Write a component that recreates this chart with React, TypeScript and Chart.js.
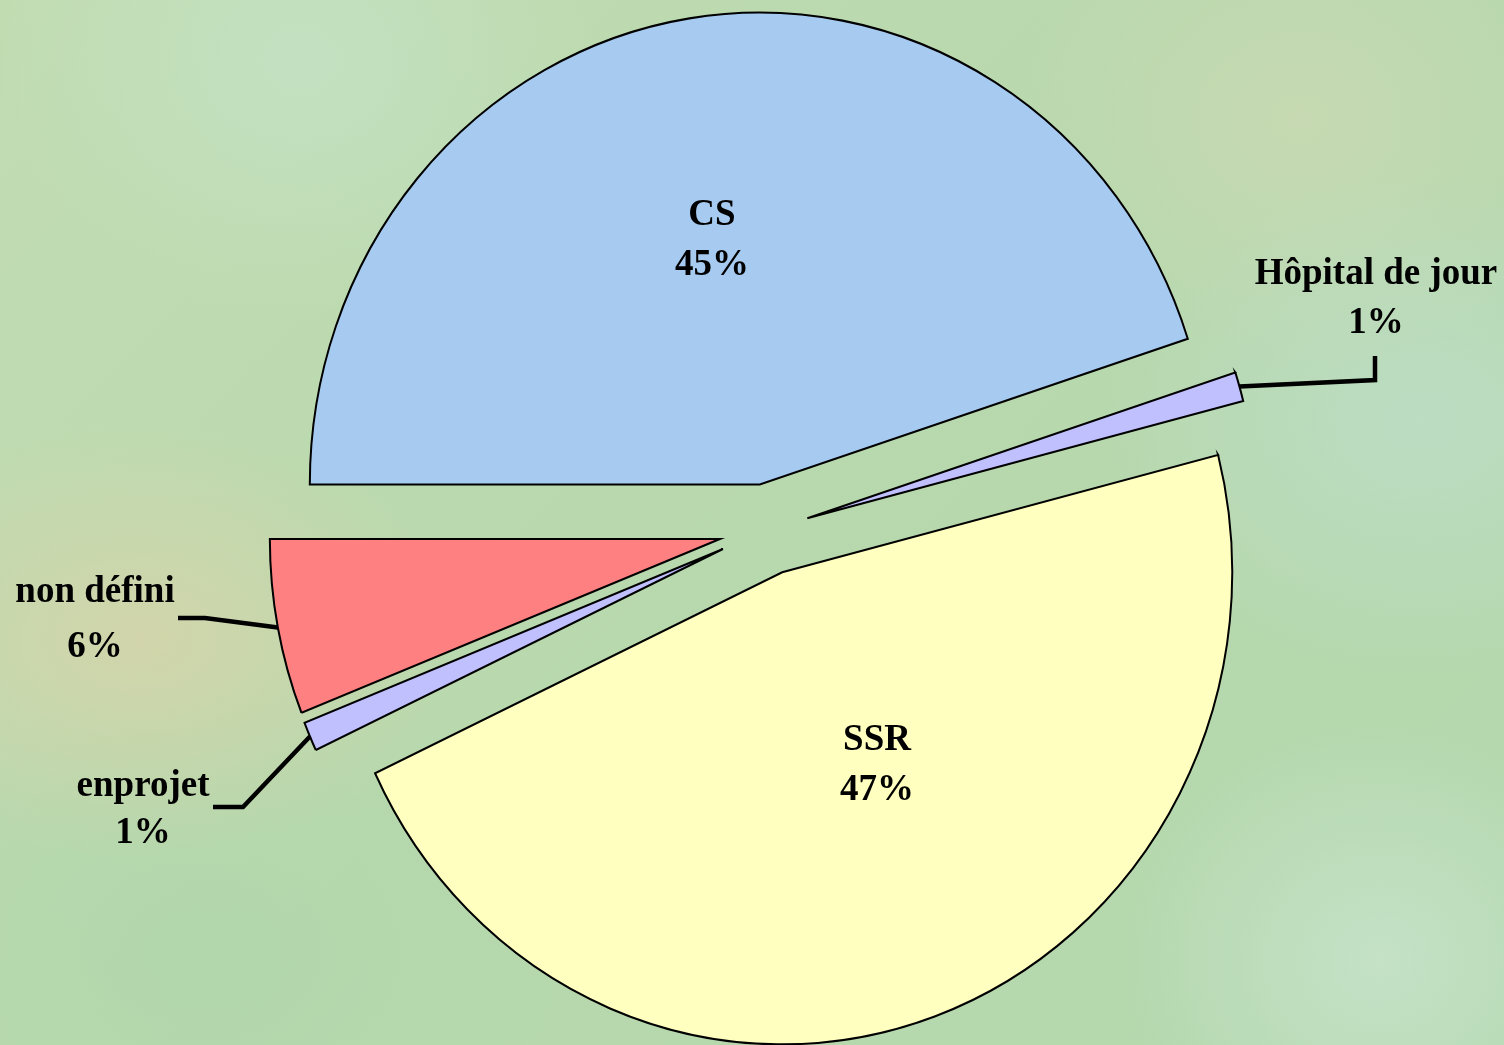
import React, { useEffect, useRef } from "react";
import { Chart, registerables } from "chart.js";

Chart.register(...registerables);

// ---- data ----
const categories = ["CS", "Hôpital de jour", "SSR", "enprojet", "non défini"];
const values = [45, 1, 47, 1, 6];
const percentLabels = ["45%", "1%", "47%", "1%", "6%"];

// ---- styles ----
const sliceColors = ["#a6caf0", "#c0c0ff", "#ffffc0", "#c0c0ff", "#ff8080"];
const explode = [46, 42, 45, 48, 48];
const RADIUS = 450;
const KY = 472 / 450;
const FONT = "bold 37px 'Liberation Serif', 'Times New Roman', serif";

// label layout: centre of first line, line gap, and leader elbow points (outside labels)
const labelLayout: { x: number; y: number; gap: number; leader?: number[][] }[] = [
  { x: 712, y: 215, gap: 50 },
  { x: 1376, y: 274, gap: 49, leader: [[1375, 380], [1375, 356]] },
  { x: 877, y: 740, gap: 50 },
  { x: 143, y: 786, gap: 47, leader: [[243, 807], [213, 807]] },
  { x: 95, y: 592, gap: 55, leader: [[205, 618], [178, 618]] },
];

function center(chart: any) {
  const a = chart.chartArea;
  return { cx: (a.left + a.right) / 2, cy: (a.top + a.bottom) / 2 };
}

const piePlugin = {
  id: "ellipsePie",
  afterDatasetsUpdate(chart: any) {
    const meta = chart.getDatasetMeta(0);
    meta.data.forEach((arc: any, i: number) => {
      const mid = (arc.startAngle + arc.endAngle) / 2;
      arc.x += Math.cos(mid) * explode[i];
      arc.y += (Math.sin(mid) * explode[i]) / KY;
    });
  },
  beforeDatasetsDraw(chart: any) {
    const { ctx } = chart;
    const { cx, cy } = center(chart);
    ctx.save();
    ctx.translate(cx, cy);
    ctx.scale(1, KY);
    ctx.translate(-cx, -cy);
  },
  afterDatasetsDraw(chart: any) {
    chart.ctx.restore();
  },
  afterDraw(chart: any) {
    const { ctx } = chart;
    const { cy } = center(chart);
    const meta = chart.getDatasetMeta(0);
    ctx.save();
    meta.data.forEach((arc: any, i: number) => {
      const lay = labelLayout[i];
      if (lay.leader) {
        const mid = (arc.startAngle + arc.endAngle) / 2;
        const sx = arc.x + Math.cos(mid) * arc.outerRadius;
        const sy = cy + (arc.y + Math.sin(mid) * arc.outerRadius - cy) * KY;
        ctx.beginPath();
        ctx.moveTo(sx, sy);
        lay.leader.forEach((p) => ctx.lineTo(p[0], p[1]));
        ctx.strokeStyle = "#000";
        ctx.lineWidth = 4.5;
        ctx.lineJoin = "miter";
        ctx.stroke();
      }
      ctx.fillStyle = "#000";
      ctx.font = FONT;
      ctx.textAlign = "center";
      ctx.textBaseline = "middle";
      ctx.fillText(categories[i], lay.x, lay.y);
      ctx.fillText(percentLabels[i], lay.x, lay.y + lay.gap);
    });
    ctx.restore();
  },
};

export default function App() {
  const ref = useRef<HTMLCanvasElement | null>(null);
  useEffect(() => {
    if (!ref.current) return;
    const chart = new Chart(ref.current, {
      type: "pie",
      data: {
        labels: categories,
        datasets: [
          {
            data: values,
            backgroundColor: sliceColors,
            borderColor: "#000",
            borderWidth: 2,
            borderJoinStyle: "miter",
            radius: RADIUS,
            clip: false,
          } as any,
        ],
      },
      options: {
        responsive: false,
        animation: false,
        events: [],
        rotation: 270,
        layout: { padding: { left: 30, top: 15, right: 0, bottom: 0 } },
        plugins: { legend: { display: false }, tooltip: { enabled: false } },
      },
      plugins: [piePlugin],
    });
    return () => chart.destroy();
  }, []);

  const bg = [
    "radial-gradient(ellipse 320px 220px at 140px 640px, rgba(214,212,170,0.85), rgba(214,212,170,0) 100%)",
    "radial-gradient(ellipse 300px 260px at 300px 60px, rgba(196,228,200,0.7), rgba(196,228,200,0) 100%)",
    "radial-gradient(ellipse 320px 260px at 1420px 420px, rgba(190,222,200,0.8), rgba(190,222,200,0) 100%)",
    "radial-gradient(ellipse 260px 240px at 1380px 960px, rgba(200,228,205,0.8), rgba(200,228,205,0) 100%)",
    "radial-gradient(ellipse 400px 300px at 200px 950px, rgba(176,214,172,0.8), rgba(176,214,172,0) 100%)",
    "radial-gradient(ellipse 300px 250px at 1300px 120px, rgba(205,218,180,0.7), rgba(205,218,180,0) 100%)",
    "linear-gradient(135deg, #c2dcb2 0%, #b8d8ad 50%, #b4d8ae 100%)",
  ].join(", ");

  return (
    <div
      style={{
        position: "absolute",
        left: 0,
        top: 0,
        width: 1504,
        height: 1045,
        overflow: "hidden",
        background: bg,
      }}
    >
      <canvas ref={ref} width={1504} height={1045} style={{ display: "block" }} />
    </div>
  );
}
